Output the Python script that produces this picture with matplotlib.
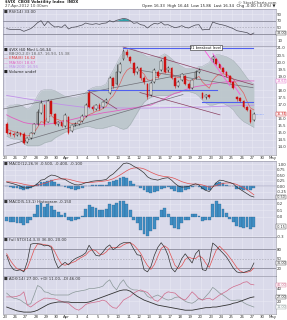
import matplotlib
matplotlib.use('Agg')
import matplotlib.pyplot as plt
import numpy as np

# ---------------- data ----------------
date_labels = ['23', '26', '27', '28', '29', '30', 'Apr', '3', '4', '5', '9', '10', '11', '12', '13',
               '16', '17', '18', '19', '20', '23', '24', '25', '26', '27', '30', 'May']

opens = [15.59, 14.97, 14.90, 14.84, 14.97, 14.90, 14.36, 14.63, 14.97, 15.59, 16.41, 16.96, 15.79, 17.23,
         16.34, 15.59, 15.73, 15.45, 16.14, 15.11, 15.52, 15.59, 15.86, 16.21, 17.85, 16.82, 16.68, 16.96,
         16.82, 17.16, 17.85, 18.88, 18.47, 19.29, 20.25, 20.73, 20.38, 19.97, 19.29, 19.56, 18.88, 18.47,
         17.64, 18.60, 19.29, 19.42, 20.38, 19.42, 19.56, 18.88, 18.33, 18.74, 19.01, 18.47, 18.19, 18.88,
         19.29, 17.85, 17.51, 17.64, 20.25, 20.25, 19.84, 19.56, 19.29, 19.01, 18.60, 17.51, 17.44, 17.23,
         16.82, 16.62, 15.93]
closes = [14.97, 14.90, 14.84, 14.97, 14.84, 14.29, 14.63, 14.97, 15.59, 16.48, 17.10, 15.59, 17.23, 16.34,
          15.59, 15.73, 15.45, 16.27, 14.97, 15.52, 15.59, 15.86, 16.21, 16.96, 16.82, 16.68, 16.96, 16.68,
          17.16, 17.30, 18.88, 18.33, 19.29, 19.84, 20.79, 20.52, 20.11, 19.22, 19.56, 18.88, 18.60, 17.51,
          18.53, 19.42, 19.01, 20.11, 19.29, 19.56, 18.88, 18.33, 18.60, 19.15, 18.47, 18.19, 18.74, 19.29,
          19.42, 17.44, 17.64, 17.51, 20.38, 19.84, 19.56, 19.29, 19.01, 18.60, 18.19, 17.37, 17.23, 16.82,
          16.62, 15.79, 16.34]
highs = [15.79, 15.11, 15.04, 15.11, 15.04, 15.04, 14.70, 15.04, 15.66, 16.68, 17.30, 17.03, 17.37, 17.30,
         16.41, 15.86, 15.79, 16.41, 16.21, 15.59, 15.73, 15.93, 16.34, 17.10, 17.99, 16.96, 17.03, 17.10,
         17.23, 17.44, 19.01, 18.95, 19.90, 20.04, 20.93, 20.93, 20.45, 20.04, 19.70, 19.63, 19.01, 18.53,
         18.67, 19.56, 19.42, 20.25, 20.45, 19.70, 19.63, 18.95, 18.74, 19.22, 19.08, 18.60, 18.81, 19.42,
         19.56, 17.92, 17.71, 17.78, 20.52, 20.32, 19.90, 19.63, 19.36, 19.08, 18.67, 17.58, 17.51, 17.30,
         16.89, 16.68, 16.44]
lows = [14.90, 14.77, 14.70, 14.77, 14.77, 14.22, 14.29, 14.56, 14.90, 15.52, 16.34, 15.45, 15.73, 16.27,
        15.52, 15.45, 15.38, 15.38, 14.90, 15.04, 15.45, 15.52, 15.79, 16.14, 16.75, 16.55, 16.62, 16.62,
        16.75, 17.10, 17.78, 18.19, 18.40, 19.22, 20.18, 20.38, 19.97, 19.08, 19.15, 18.74, 18.47, 17.37,
        17.58, 18.53, 18.88, 19.36, 19.22, 19.29, 18.81, 18.19, 18.26, 18.67, 18.40, 18.12, 18.12, 18.81,
        19.22, 17.37, 17.37, 17.44, 20.04, 19.77, 19.49, 19.22, 18.95, 18.53, 18.12, 17.23, 17.16, 16.75,
        16.55, 15.72, 15.86]

bb_upper = [16.82, 16.96, 16.96, 17.03, 16.96, 16.82, 16.68, 16.82, 17.16, 17.64, 17.99, 18.05, 18.05, 18.05,
            17.99, 17.85, 17.71, 17.58, 17.51, 17.51, 17.51, 17.58, 17.64, 17.85, 18.05, 18.19, 18.26, 18.26,
            18.33, 18.47, 19.01, 19.42, 19.90, 20.38, 20.73, 20.93, 21.00, 20.93, 20.79, 20.66, 20.52, 20.38,
            20.38, 20.38, 20.38, 20.45, 20.59, 20.45, 20.25, 20.04, 19.84, 19.70, 19.56, 19.56, 19.56, 19.56,
            19.70, 19.70, 19.84, 19.97, 20.38, 20.52, 20.52, 20.45, 20.38, 20.25, 20.11, 19.84, 19.56, 19.22,
            18.88, 18.60, 18.47]
bb_lower = [14.77, 14.63, 14.56, 14.56, 14.49, 14.22, 14.08, 14.08, 14.08, 14.08, 14.15, 14.29, 14.36, 14.42,
            14.63, 14.77, 14.90, 15.04, 15.11, 15.18, 15.25, 15.32, 15.38, 15.45, 15.45, 15.38, 15.32, 15.32,
            15.32, 15.38, 15.45, 15.52, 15.45, 15.32, 15.25, 15.32, 15.59, 16.00, 16.41, 16.82, 17.16, 17.37,
            17.51, 17.58, 17.64, 17.64, 17.64, 17.64, 17.71, 17.78, 17.85, 17.92, 17.92, 17.92, 17.85, 17.78,
            17.58, 17.30, 17.10, 16.96, 16.96, 17.03, 17.10, 17.10, 16.96, 16.82, 16.62, 16.27, 16.00, 15.79,
            15.66, 15.52, 15.38]
ema_fast = [15.25, 15.18, 15.08, 15.04, 14.97, 14.84, 14.77, 14.84, 15.04, 15.38, 15.79, 15.73, 16.14, 16.21,
            16.00, 15.93, 15.83, 15.93, 15.73, 15.66, 15.66, 15.69, 15.82, 16.11, 16.29, 16.38, 16.53, 16.57,
            16.72, 16.86, 17.37, 17.61, 18.03, 18.48, 19.05, 19.42, 19.60, 19.50, 19.51, 19.36, 19.16, 18.75,
            18.70, 18.88, 18.91, 19.21, 19.23, 19.32, 19.21, 18.99, 18.89, 18.95, 18.83, 18.67, 18.68, 18.84,
            18.99, 18.60, 18.36, 18.15, 18.71, 18.99, 19.14, 19.17, 19.13, 19.00, 18.79, 18.44, 18.14, 17.81,
            17.23, 16.75, 16.62]
ma_mid = [16.27, 16.14, 16.03, 15.93, 15.83, 15.73, 15.68, 15.64, 15.62, 15.60, 15.59, 15.60, 15.62, 15.65,
          15.69, 15.73, 15.78, 15.83, 15.88, 15.94, 16.00, 16.06, 16.11, 16.17, 16.22, 16.27, 16.31, 16.36,
          16.41, 16.45, 16.48, 16.52, 16.56, 16.60, 16.65, 16.68, 16.72, 16.76, 16.80, 16.85, 16.89, 16.93,
          16.96, 17.08, 17.20, 17.30, 17.42, 17.55, 17.68, 17.80, 17.85, 17.95, 18.05, 18.12, 18.19, 18.26,
          18.30, 18.34, 18.38, 18.42, 18.47, 18.51, 18.55, 18.58, 18.60, 18.62, 18.64, 18.66, 18.67, 18.67,
          18.67, 18.67, 18.67]
ma_long = [17.64, 17.60, 17.56, 17.52, 17.48, 17.44, 17.40, 17.36, 17.32, 17.28, 17.24, 17.20, 17.16, 17.12,
           17.08, 17.04, 17.00, 16.97, 16.94, 16.91, 16.88, 16.85, 16.82, 16.81, 16.80, 16.80, 16.79, 16.79,
           16.78, 16.78, 16.77, 16.77, 16.76, 16.76, 16.76, 16.75, 16.75, 16.75, 16.75, 16.75, 16.75, 16.75,
           16.75, 16.76, 16.76, 16.77, 16.77, 16.78, 16.78, 16.79, 16.79, 16.80, 16.80, 16.81, 16.81, 16.82,
           16.82, 16.82, 16.83, 16.84, 16.85, 16.86, 16.87, 16.88, 16.89, 16.90, 16.91, 16.92, 16.93, 16.94,
           16.95, 16.95, 16.96]

# user-drawn trendlines: (day0, price0, day1, price1)
gray_lines = [(-0.19, 16.68, 18.93, 19.36), (0.19, 14.08, 17.28, 17.71), (13.1, 19.42, 24.08, 18.19)]
maroon_lines = [(11.46, 21.07, 24.08, 18.40), (13.1, 17.85, 20.87, 16.27), (8.06, 17.99, 10.87, 16.68)]
pink_lines = [(19.42, 20.79, 21.84, 18.33), (20.19, 20.59, 22.82, 17.71)]
blue_levels = [(11.46, 24.08, 21.0), (8.06, 20.58, 18.0), (19.1, 24.08, 17.15)]

rsi = [46, 44, 43, 44, 43, 38, 42, 46, 54, 64, 70, 55, 68, 58, 51, 52, 50, 58, 45, 50, 51, 54, 57, 63,
       60, 59, 61, 59, 62, 63, 70, 66, 71, 74, 77, 75, 70, 62, 64, 58, 56, 48, 56, 62, 60, 65, 57, 58,
       53, 49, 51, 55, 50, 48, 53, 57, 58, 42, 44, 43, 66, 62, 59, 57, 54, 50, 46, 40, 38, 36, 34, 28, 33]
macd = [0.18, 0.14, 0.10, 0.05, 0.0, -0.09, -0.08, -0.05, 0.0, 0.12, 0.27, 0.30, 0.42, 0.50, 0.48, 0.42,
        0.33, 0.30, 0.20, 0.12, 0.06, 0.05, 0.09, 0.15, 0.18, 0.22, 0.24, 0.25, 0.27, 0.30, 0.45, 0.55,
        0.70, 0.85, 1.02, 1.05, 1.00, 0.90, 0.82, 0.72, 0.60, 0.42, 0.33, 0.30, 0.27, 0.32, 0.36, 0.38,
        0.27, 0.12, 0.0, -0.05, -0.04, -0.02, 0.05, 0.10, 0.05, -0.10, -0.20, -0.25, -0.05, 0.15, 0.27,
        0.25, 0.20, 0.16, 0.10, -0.05, -0.15, -0.25, -0.35, -0.45, -0.50]
macd_signal = [0.20, 0.19, 0.17, 0.15, 0.12, 0.08, 0.05, 0.03, 0.02, 0.04, 0.08, 0.12, 0.18, 0.24, 0.29,
               0.32, 0.33, 0.33, 0.31, 0.27, 0.23, 0.19, 0.17, 0.16, 0.16, 0.17, 0.19, 0.20, 0.22, 0.24,
               0.28, 0.33, 0.41, 0.50, 0.60, 0.70, 0.78, 0.82, 0.83, 0.82, 0.78, 0.71, 0.63, 0.56, 0.50,
               0.46, 0.43, 0.42, 0.39, 0.34, 0.27, 0.20, 0.15, 0.11, 0.09, 0.09, 0.08, 0.05, 0.0, -0.05,
               -0.03, 0.02, 0.08, 0.12, 0.14, 0.14, 0.12, 0.07, 0.0, -0.08, -0.17, -0.28, -0.40]
hist2 = [-0.07, -0.08, -0.08, -0.09, -0.10, -0.12, -0.10, -0.04, 0.05, 0.18, 0.22, 0.15, 0.20, 0.17, 0.10,
         0.08, 0.03, 0.06, -0.05, -0.06, -0.05, -0.03, 0.02, 0.12, 0.18, 0.16, 0.14, 0.10, 0.10, 0.12,
         0.20, 0.18, 0.22, 0.24, 0.25, 0.20, 0.10, -0.05, -0.10, -0.20, -0.26, -0.30, -0.22, -0.18, -0.05,
         0.10, 0.14, 0.05, -0.12, -0.17, -0.18, -0.10, -0.05, -0.04, 0.04, 0.05, 0.02, -0.06, -0.05, -0.04,
         0.20, 0.24, 0.20, 0.12, 0.06, -0.03, -0.08, -0.14, -0.15, -0.17, -0.16, -0.18, -0.15]
sto_k = [60, 30, 15, 12, 15, 8, 40, 95, 98, 97, 95, 90, 92, 85, 45, 20, 30, 38, 30, 42, 50, 55, 60, 68,
         92, 75, 60, 58, 70, 85, 93, 78, 85, 95, 100, 100, 100, 80, 62, 60, 15, 8, 25, 60, 85, 100, 85,
         60, 20, 8, 25, 50, 65, 50, 36, 65, 77, 15, 12, 40, 99, 90, 78, 67, 55, 38, 20, 8, 5, 6, 10, 14, 36]
sto_d = [65, 45, 30, 18, 14, 12, 20, 48, 78, 96, 96, 94, 92, 89, 72, 50, 32, 29, 33, 37, 41, 49, 55, 61,
         73, 78, 75, 64, 63, 71, 83, 85, 85, 86, 93, 98, 100, 93, 81, 67, 46, 28, 16, 31, 57, 82, 90, 82,
         55, 29, 18, 28, 47, 55, 50, 50, 59, 52, 35, 22, 50, 76, 89, 78, 67, 53, 38, 22, 11, 6, 7, 10, 20]
adx = [11, 9, 7, 5, 4, 3, 3, 3, 4, 6, 9, 12, 15, 17, 18, 19, 19, 19, 19, 18, 18, 18, 18, 18, 19, 21,
       23, 25, 27, 29, 31, 33, 35, 37, 38, 38, 36, 32, 28, 25, 22, 20, 18, 16, 14, 13, 12, 11, 10, 9, 8,
       7, 6, 6, 6, 7, 8, 9, 10, 10, 11, 11, 12, 13, 14, 15, 17, 18, 20, 22, 24, 26, 27]
plus_di = [33, 28, 25, 24, 22, 18, 15, 16, 30, 45, 42, 35, 34, 31, 30, 30, 30, 30, 30, 33, 35, 36, 37,
           38, 40, 40, 41, 42, 44, 50, 54, 44, 38, 48, 54, 45, 40, 38, 38, 36, 35, 28, 25, 28, 30, 27, 24,
           22, 23, 26, 27, 24, 20, 18, 17, 20, 25, 22, 28, 34, 42, 38, 33, 30, 26, 22, 21, 22, 22, 18, 15,
           13, 11]
minus_di = [27, 27, 27, 28, 30, 35, 14, 11, 15, 19, 22, 25, 25, 24, 24, 22, 20, 18, 17, 12, 8, 6, 10, 15,
            17, 18, 19, 20, 22, 20, 14, 10, 9, 15, 22, 25, 28, 33, 36, 38, 36, 34, 28, 22, 20, 25, 32, 35,
            34, 33, 28, 24, 22, 28, 35, 30, 24, 22, 24, 25, 22, 26, 30, 33, 36, 40, 43, 45, 47, 50, 51, 47,
            46]

# ---------------- figure ----------------
BG = '#dadaea'
GRID = '#eaeaf3'
RED = '#cc1111'
PINK = '#e060c0'
VIOLET = '#c090e8'
MAROON = '#8a4060'
BLUE = '#5060f0'
HBLUE = '#3f8ec4'
FS = 2.8
TFS = 2.4

fig = plt.figure(figsize=(2.87, 3.2), dpi=100)
fig.patch.set_facecolor('white')
L, W = 3 / 287, 273 / 287


def panel(top, bot):
    a = fig.add_axes([L, 1 - bot / 320, W, (bot - top) / 320])
    a.set_facecolor(BG)
    a.set_xlim(-0.19, 26.31)
    for s in a.spines.values():
        s.set_color('#8c8c9c')
        s.set_linewidth(0.4)
    a.set_xticks(range(len(date_labels)))
    a.tick_params(axis='both', length=0, labelsize=FS, colors='#333333', pad=0.8)
    a.yaxis.tick_right()
    a.grid(True, color=GRID, lw=0.4)
    a.set_axisbelow(True)
    a.set_xticklabels([])
    return a


def tag(a, val, col, fmt='{:.2f}'):
    a.annotate(fmt.format(val), xy=(1.0, val), xycoords=('axes fraction', 'data'), xytext=(0.4, 0),
               textcoords='offset points', fontsize=TFS, va='center', ha='left', color=col,
               bbox=dict(boxstyle='square,pad=0.06', fc='white', ec=col, lw=0.3), annotation_clip=False)


def right_ticks(a, ticks, fmt, tag_vals, gap_px):
    lo_, hi_ = a.get_ylim()
    ppu = a.bbox.height / (hi_ - lo_)
    keep = [t for t in ticks if all(abs(t - v) * ppu > gap_px for v in tag_vals)]
    a.set_yticks(keep)
    a.set_yticklabels([fmt.format(t) for t in keep])


x = (np.arange(len(closes)) + 0.5) / 3.0

# ---- RSI panel ----
ax_rsi = panel(9, 46)
ax_rsi.set_ylim(-6, 105)
ax_rsi.axhline(70, color='#777788', lw=0.5)
ax_rsi.axhline(30, color='#777788', lw=0.5)
ax_rsi.axhline(50, color='#9999aa', lw=0.4, ls=(0, (3, 2)))
r = np.array(rsi, dtype=float)
ax_rsi.fill_between(x, r, 70, where=r > 70, color='#2f9fa8', lw=0, interpolate=True)
ax_rsi.fill_between(x, r, 30, where=r < 30, color=RED, lw=0, interpolate=True)
ax_rsi.plot(x, r, color='#4a4a55', lw=0.5)
ax_rsi.text(0.004, 0.97, '\u25a0 RSI(14) 33.00', transform=ax_rsi.transAxes, fontsize=FS,
            va='top', ha='left', color='#333333')
tag(ax_rsi, rsi[-1], '#333333')
right_ticks(ax_rsi, [10, 30, 50, 70, 90], '{:d}', [rsi[-1]], 3.5)

# ---- main price panel ----
ax = panel(46, 155)
ax.set_ylim(13.43, 21.14)
ax.set_xticklabels(date_labels)
ax.fill_between(x, bb_lower, bb_upper, color='#b8c4c8', alpha=0.85, lw=0)
ax.plot(x, bb_upper, color='#a0aab0', lw=0.3)
ax.plot(x, bb_lower, color='#a0aab0', lw=0.3)
ax.plot(x, ma_long, color=VIOLET, lw=0.6)
ax.plot(x, ma_mid, color=PINK, lw=0.6)
ax.plot(x, ema_fast, color='#e06060', lw=0.5)
for (d0, p0, d1, p1) in gray_lines:
    ax.plot([d0, d1], [p0, p1], color='#707078', lw=0.5)
for (d0, p0, d1, p1) in maroon_lines:
    ax.plot([d0, d1], [p0, p1], color=MAROON, lw=0.5)
for (d0, p0, d1, p1) in pink_lines:
    ax.plot([d0, d1], [p0, p1], color='#ff55dd', lw=0.6)
for (d0, d1, p) in blue_levels:
    ax.plot([d0, d1], [p, p], color=BLUE, lw=0.8)
ax.plot([x[-1], 25.0], [closes[-1], closes[-1]], color='#7f9fff', lw=0.5, ls=(0, (1, 1)))

o = np.array(opens); c = np.array(closes); h = np.array(highs); lo = np.array(lows)
prev = np.concatenate([[o[0]], c[:-1]])
edge = np.where(c < prev, RED, '#111111')
filled = c < o
face = [e if f else 'white' for e, f in zip(edge, filled)]
ax.vlines(x, lo, h, colors=edge, lw=0.4, zorder=3)
body_h = np.maximum(np.abs(c - o), 0.04)
ax.bar(x, body_h, bottom=np.minimum(o, c), width=0.17, color=face, edgecolor=edge, lw=0.3, zorder=4)

ax.text(19.47, 21.03, '21 breakout level', fontsize=2.5, ha='center', va='center', color='#111111',
        zorder=6, bbox=dict(boxstyle='square,pad=0.15', fc='white', ec='#222222', lw=0.4))

legend_lines = [('\u25a0 $VIX (60 Min) L:16.34', '#222222'),
                ('\u2014 BB(20,2.0) 18.47, 16.93, 15.38', '#666666'),
                ('\u2014 EMA(8) 16.62', '#e04040'),
                ('\u2014 MA(50) 18.67', PINK),
                ('\u2014 MA(200) 16.96', VIOLET),
                ('\u25a0 Volume undef', '#222222')]
for k, (t, col) in enumerate(legend_lines):
    ax.text(0.004, 0.985 - k * 0.04, t, transform=ax.transAxes, fontsize=FS, va='top', ha='left', color=col)

tag(ax, ma_mid[-1], PINK)
tag(ax, closes[-1], RED)
right_ticks(ax, list(np.arange(14.0, 21.01, 0.5)), '{:.1f}', [ma_mid[-1], closes[-1]], 3.8)

# ---- MACD panel ----
ax_m = panel(161, 199)
ax_m.set_ylim(-0.59, 1.14)
m = np.array(macd); s = np.array(macd_signal)
ax_m.bar(x, m - s, width=0.28, color=HBLUE, edgecolor='#2a5f8a', lw=0.2)
ax_m.axhline(0, color='#8888aa', lw=0.3)
ax_m.plot(x, s, color='#e05050', lw=0.5)
ax_m.plot(x, m, color='#333333', lw=0.5)
ax_m.text(0.004, 0.97, '\u25a0 MACD(12,26,9) -0.500, -0.400, -0.100', transform=ax_m.transAxes,
          fontsize=FS, va='top', ha='left', color='#333333')
tag(ax_m, macd[-1], '#333333')
right_ticks(ax_m, [-0.25, 0.0, 0.25, 0.5, 0.75, 1.0], '{:.2f}', [macd[-1]], 3.5)

# ---- second histogram panel ----
ax_h = panel(199, 237)
ax_h.set_ylim(-0.31, 0.277)
ax_h.bar(x, hist2, width=0.28, color=HBLUE, edgecolor='#2a5f8a', lw=0.2)
ax_h.text(0.004, 0.97, '\u25a0 MACD(5,13,1) Histogram -0.150', transform=ax_h.transAxes,
          fontsize=FS, va='top', ha='left', color='#333333')
tag(ax_h, hist2[-1], '#333333')
right_ticks(ax_h, [-0.3, -0.2, -0.1, 0.0, 0.1, 0.2], '{:.1f}', [hist2[-1]], 3.5)

# ---- stochastics panel ----
ax_s = panel(237, 276)
ax_s.set_ylim(-5, 118)
ax_s.axhline(80, color='#777788', lw=0.5)
ax_s.axhline(20, color='#777788', lw=0.5)
ax_s.axhline(50, color='#9999aa', lw=0.4, ls=(0, (3, 2)))
ax_s.plot(x, sto_d, color='#e05050', lw=0.5)
ax_s.plot(x, sto_k, color='#333333', lw=0.5)
ax_s.text(0.004, 0.97, '\u25a0 Full STO(14,3,3) 36.00, 20.00', transform=ax_s.transAxes,
          fontsize=FS, va='top', ha='left', color='#333333')
tag(ax_s, sto_k[-1], '#333333')
right_ticks(ax_s, [20, 50, 80], '{:d}', [sto_k[-1]], 3.5)

# ---- ADX panel ----
ax_a = panel(276, 314)
ax_a.set_ylim(0, 60)
ax_a.set_xticklabels(date_labels)
ax_a.plot(x, plus_di, color='#8a9898', lw=0.5)
ax_a.plot(x, minus_di, color='#d06a8a', lw=0.5)
ax_a.plot(x, adx, color='#333333', lw=0.6)
ax_a.text(0.004, 0.97, '\u25a0 ADX(14) 27.00, +DI 11.00, -DI 46.00', transform=ax_a.transAxes,
          fontsize=FS, va='top', ha='left', color='#333333')
tag(ax_a, adx[-1], '#333333')
tag(ax_a, minus_di[-1], '#d06a8a')
tag(ax_a, plus_di[-1], '#8a9898')
right_ticks(ax_a, [10, 20, 30, 40, 50], '{:d}', [adx[-1], minus_di[-1], plus_di[-1]], 3.5)

# ---- header ----
fig.text(5 / 287, 1 - 2.5 / 320, '$VIX  CBOE Volatility Index  INDX', fontsize=FS, va='center', ha='left',
         color='#222222', fontweight='bold')
fig.text(5 / 287, 1 - 6.5 / 320, '27-Apr-2012 10:30am', fontsize=FS, va='center', ha='left', color='#444444')
fig.text(276 / 287, 1 - 2.5 / 320, '\u00a9 StockCharts.com', fontsize=FS, va='center', ha='right', color='#444444')
fig.text(276 / 287, 1 - 6.5 / 320, 'Open 16.33  High 16.44  Low 15.86  Last 16.34  Chg -0.00 (-0.0%) \u25bc',
         fontsize=FS, va='center', ha='right', color='#222222')

fig.savefig('out.png', dpi=100, facecolor='white')
